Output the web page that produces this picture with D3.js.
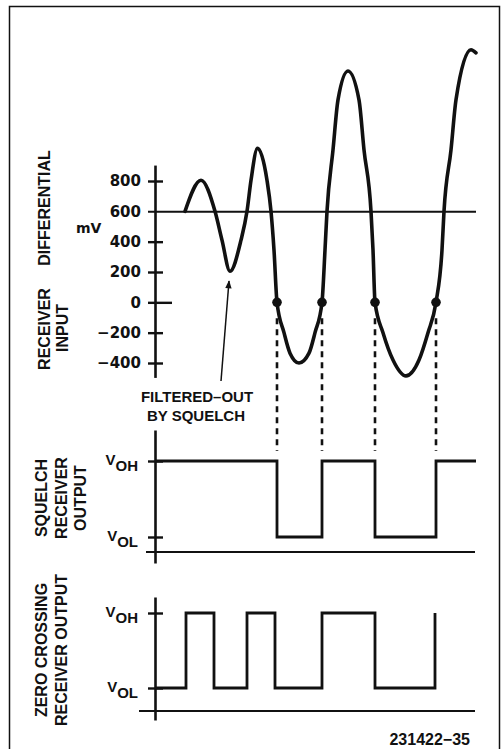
<!DOCTYPE html>
<html>
<head>
<meta charset="utf-8">
<script src="https://cdn.jsdelivr.net/npm/d3@7"></script>
<style>
    body { margin: 0; background: #fff; }
    svg { display: block; }
    text { fill: #111; }
</style>
</head>
<body>
<svg width="502" height="749"></svg>
<script>
// differential receiver input, mV, traced at points along the curve (time in arbitrary units)
var waveTime = [30, 46, 60, 67, 75, 86, 92, 96, 102.5, 112, 116, 119, 122,
                129, 135, 144, 154, 160, 167, 170, 172, 178, 183, 193, 204, 209, 216, 218, 220,
                228, 238, 251, 264, 273, 281, 287, 289, 296, 301, 316, 321];
var waveMv   = [600, 805, 600, 410, 205, 410, 600, 805, 1015, 805, 600, 345, 0,
                -200, -335, -400, -335, -200, 0, 345, 600, 1005, 1335, 1525, 1335, 1005, 600, 345, 0,
                -200, -380, -485, -380, -200, 0, 345, 600, 1005, 1335, 1665, 1645];

var mvTicks = [800, 600, 400, 200, 0, -200, -400];
var squelchLevel = 600;

// zero crossings of the squelched signal (dots + dashed guides)
var crossTime = [122, 167, 220, 281];

// outputs: 1 = VOH, 0 = VOL
var squelchTime  = [0, 122, 167, 220, 281, 321];
var squelchState = [1, 0, 1, 0, 1, 1];
var zeroTime  = [0, 31, 59, 92, 120, 167, 220, 280];
var zeroState = [0, 1, 0, 1, 0, 1, 0, 1];
var levelSubs = ['OL', 'OH'];

var svg = d3.select('svg');
var ink = '#111';
var font = 'Liberation Sans, Arial, sans-serif';

// frame
svg.append('rect')
    .attr('x', 9.5).attr('y', 6.5)
    .attr('width', 490).attr('height', 760)
    .attr('fill', 'none')
    .attr('stroke', ink)
    .attr('stroke-width', 1.5);

var x = d3.scaleLinear().domain([0, 320]).range([155, 475]);
var y = d3.scaleLinear().domain([-400, 800]).range([363, 181]);

// ---------- top panel: receiver input ----------
var yAxisScale = y.copy().domain([-495, 905]).range([y(-495), y(905)]);

var topAxis = svg.append('g')
    .attr('transform', 'translate(' + x(0) + ',0)')
    .call(d3.axisLeft(yAxisScale)
        .tickValues(mvTicks)
        .tickSizeInner(7)
        .tickSizeOuter(0)
        .tickPadding(7)
        .tickFormat(d => d < 0 ? '\u2212' + Math.abs(d) : d));

topAxis.select('.domain').attr('stroke', ink).attr('stroke-width', 2.6);
topAxis.selectAll('.tick line')
    .attr('stroke', ink)
    .attr('stroke-width', 2.4)
    .attr('x1', d => d === squelchLevel ? x(321) - x(0) : (d === 0 ? 17 : 8));
topAxis.selectAll('.tick line').filter(d => d === squelchLevel).attr('stroke-width', 2);
topAxis.attr('font-family', 'DejaVu Sans')
    .attr('font-size', 15)
    .attr('font-weight', 'bold');
topAxis.selectAll('.tick text').attr('fill', ink);

svg.append('text')
    .attr('x', 76).attr('y', 233)
    .attr('font-family', 'DejaVu Sans')
    .attr('font-size', 14)
    .attr('font-weight', 'bold')
    .text('mV');

var wave = waveTime.map((t, i) => ({t: t, mv: waveMv[i]}));

svg.append('path')
    .datum(wave)
    .attr('fill', 'none')
    .attr('stroke', ink)
    .attr('stroke-width', 3.6)
    .attr('stroke-linejoin', 'round')
    .attr('stroke-linecap', 'round')
    .attr('d', d3.line()
        .x(d => x(d.t))
        .y(d => y(d.mv))
        .curve(d3.curveMonotoneX));

// dots at zero crossings
svg.selectAll('circle.cross')
    .data(crossTime)
    .enter()
    .append('circle')
    .attr('class', 'cross')
    .attr('cx', d => x(d))
    .attr('cy', y(0))
    .attr('r', 4.8)
    .attr('fill', ink);

// ---------- output panels ----------
var panels = [
    {name: 'squelch', time: squelchTime, state: squelchState,
     lo: 537, hi: 461, axisTop: 430, axisBottom: 563, base: 552, baseX: 146},
    {name: 'zero', time: zeroTime, state: zeroState,
     lo: 688, hi: 613, axisTop: 597, axisBottom: 720, base: 711, baseX: 139}
];

panels.forEach(p => {
    var ly = d3.scaleLinear().domain([0, 1]).range([p.lo, p.hi]);
    var axisScale = ly.copy()
        .domain([ly.invert(p.axisBottom), ly.invert(p.axisTop)])
        .range([p.axisBottom, p.axisTop]);

    var g = svg.append('g')
        .attr('transform', 'translate(' + x(0) + ',0)')
        .call(d3.axisLeft(axisScale)
            .tickValues([0, 1])
            .tickSizeInner(7)
            .tickSizeOuter(0)
            .tickFormat(''));
    g.select('.domain').attr('stroke', ink).attr('stroke-width', 2.6);
    g.selectAll('.tick line')
        .attr('stroke', ink)
        .attr('stroke-width', 2.4)
        .attr('x1', 8);

    // baseline
    svg.append('line')
        .attr('x1', p.baseX).attr('x2', x(320))
        .attr('y1', p.base).attr('y2', p.base)
        .attr('stroke', ink)
        .attr('stroke-width', 2);

    // V labels
    var lab = svg.selectAll('text.v-' + p.name)
        .data([0, 1])
        .enter()
        .append('text')
        .attr('class', 'v-' + p.name)
        .attr('x', 138)
        .attr('y', d => ly(d) + 4)
        .attr('text-anchor', 'end')
        .attr('font-family', font)
        .attr('font-size', 15)
        .attr('font-weight', 'bold');
    lab.append('tspan').text('V');
    lab.append('tspan').attr('dy', 6).text(d => levelSubs[d]);

    var steps = p.time.map((t, i) => ({t: t, s: p.state[i]}));
    svg.append('path')
        .datum(steps)
        .attr('fill', 'none')
        .attr('stroke', ink)
        .attr('stroke-width', 2.8)
        .attr('stroke-linejoin', 'miter')
        .attr('d', d3.line()
            .x(d => x(d.t))
            .y(d => ly(d.s))
            .curve(d3.curveStepAfter));

    p.ly = ly;
});

// dashed guides from the dots down to the squelch output
svg.selectAll('line.guide')
    .data(crossTime)
    .enter()
    .append('line')
    .attr('class', 'guide')
    .attr('x1', d => x(d)).attr('x2', d => x(d))
    .attr('y1', y(0) + 16)
    .attr('y2', panels[0].ly(1) - 10)
    .attr('stroke', ink)
    .attr('stroke-width', 2.6)
    .attr('stroke-dasharray', '6,5');

// annotation
svg.append('defs').append('marker')
    .attr('id', 'head')
    .attr('viewBox', '0 0 10 10')
    .attr('refX', 9).attr('refY', 5)
    .attr('markerWidth', 11).attr('markerHeight', 8)
    .attr('markerUnits', 'userSpaceOnUse')
    .attr('orient', 'auto')
    .append('path')
    .attr('d', 'M0,1 L10,5 L0,9 Z')
    .attr('fill', ink);

svg.append('line')
    .attr('x1', 221).attr('y1', 381)
    .attr('x2', 229).attr('y2', 281)
    .attr('stroke', ink)
    .attr('stroke-width', 1.5)
    .attr('marker-end', 'url(#head)');

var note = svg.append('text')
    .attr('text-anchor', 'middle')
    .attr('font-family', font)
    .attr('font-size', 15)
    .attr('font-weight', 'bold');
note.append('tspan').attr('x', 197).attr('y', 402).text('FILTERED\u2013OUT');
note.append('tspan').attr('x', 196).attr('y', 421).text('BY SQUELCH');

// rotated side labels: [text, x of baseline, y centre]
var sideLabels = [
    ['DIFFERENTIAL', 50, 208],
    ['RECEIVER', 50, 329],
    ['INPUT', 68, 328],
    ['SQUELCH', 47, 498],
    ['RECEIVER', 67, 498],
    ['OUTPUT', 86, 498],
    ['ZERO CROSSING', 47, 650],
    ['RECEIVER OUTPUT', 67, 650]
];

svg.selectAll('text.side')
    .data(sideLabels)
    .enter()
    .append('text')
    .attr('class', 'side')
    .attr('transform', d => 'translate(' + d[1] + ',' + d[2] + ') rotate(-90)')
    .attr('text-anchor', 'middle')
    .attr('font-family', font)
    .attr('font-size', 16)
    .attr('font-weight', 'bold')
    .text(d => d[0]);

// figure number
svg.append('text')
    .attr('x', 470).attr('y', 745)
    .attr('text-anchor', 'end')
    .attr('font-family', font)
    .attr('font-size', 16)
    .attr('font-weight', 'bold')
    .text('231422\u221235');
</script>
</body>
</html>
